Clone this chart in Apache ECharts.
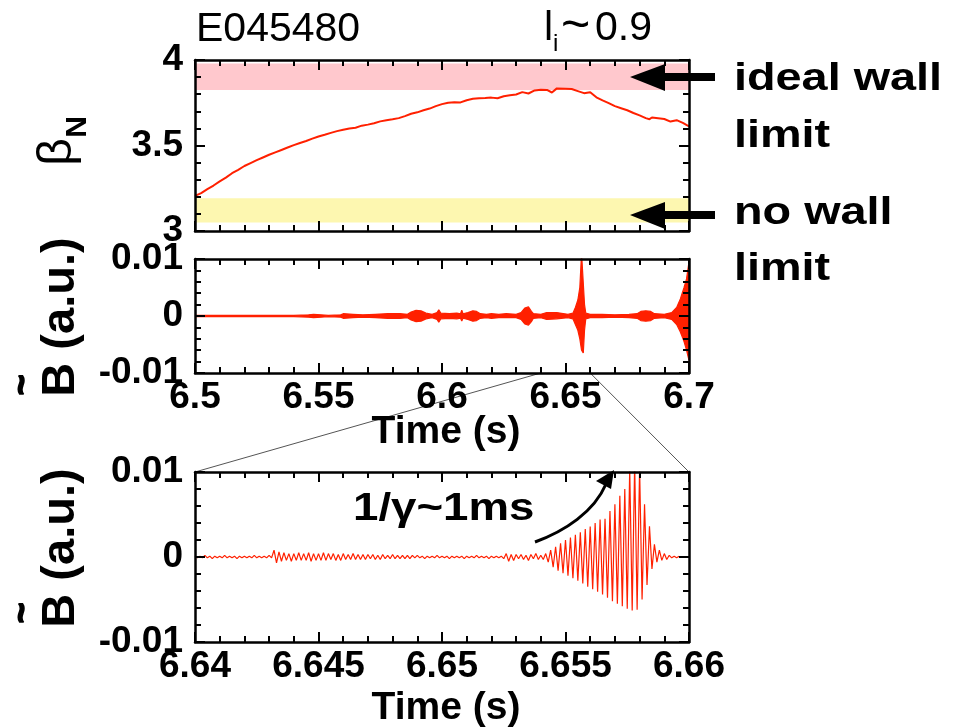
<!DOCTYPE html>
<html>
<head>
<meta charset="utf-8">
<script src="https://cdn.jsdelivr.net/npm/echarts@6/dist/echarts.min.js"></script>
<style>
html,body{margin:0;padding:0;background:#fff;}
#chart{width:964px;height:727px;}
</style>
</head>
<body>
<div id="chart"></div>
<script>
// ---------------- DATA ----------------
// tick labels
const betaTicks = [3, 3.5, 4];
const bTicks = [-0.01, 0, 0.01];
const timeTicksWide = [6.5, 6.55, 6.6, 6.65, 6.7];
const timeTicksZoom = [6.64, 6.645, 6.65, 6.655, 6.66];

// stability limit bands (beta_N)
const idealWallBand = [3.824, 3.980];
const noWallBand = [3.049, 3.192];

// beta_N trace
const betaTime = [6.5000,6.5025,6.5050,6.5075,6.5100,6.5125,6.5150,6.5175,6.5200,6.5225,
6.5250,6.5275,6.5300,6.5325,6.5350,6.5375,6.5400,6.5425,6.5450,6.5475,
6.5500,6.5525,6.5550,6.5575,6.5600,6.5625,6.5650,6.5675,6.5700,6.5725,
6.5750,6.5775,6.5800,6.5825,6.5850,6.5875,6.5900,6.5925,6.5950,6.5975,
6.6000,6.6025,6.6050,6.6075,6.6100,6.6125,6.6150,6.6175,6.6200,6.6225,
6.6250,6.6275,6.6300,6.6325,6.6350,6.6375,6.6400,6.6425,6.6445,6.6465,
6.6500,6.6525,6.6550,6.6575,6.6600,6.6625,6.6650,6.6675,6.6700,6.6725,
6.6750,6.6775,6.6800,6.6825,6.6840,6.6850,6.6875,6.6900,6.6925,6.6950,
6.6975,6.7000];
const betaN = [3.205,3.222,3.245,3.266,3.290,3.312,3.338,3.358,3.380,3.397,
3.414,3.430,3.446,3.460,3.474,3.488,3.502,3.515,3.526,3.540,
3.553,3.563,3.574,3.584,3.592,3.600,3.604,3.616,3.622,3.630,
3.641,3.648,3.653,3.660,3.672,3.686,3.694,3.706,3.716,3.730,
3.742,3.750,3.753,3.752,3.765,3.773,3.777,3.778,3.780,3.776,
3.788,3.794,3.798,3.812,3.804,3.822,3.826,3.825,3.810,3.834,
3.832,3.830,3.818,3.806,3.812,3.782,3.764,3.748,3.730,3.718,
3.706,3.690,3.676,3.660,3.654,3.664,3.660,3.655,3.640,3.648,
3.632,3.612];

// magnetic perturbation, wide window: envelope of the dense oscillation (units of 1e-4 a.u.)
const envTime = [6.5000,6.5200,6.5325,6.5330,6.5335,6.5400,6.5460,6.5480,6.5510,6.5540,
6.5590,6.5600,6.5605,6.5640,6.5680,6.5730,6.5780,6.5830,6.5860,6.5875,
6.5895,6.5915,6.5935,6.5960,6.5980,6.5987,6.5995,6.6030,6.6060,6.6075,
6.6080,6.6085,6.6105,6.6125,6.6140,6.6155,6.6180,6.6200,6.6230,6.6260,
6.6300,6.6320,6.6335,6.6350,6.6362,6.6370,6.6400,6.6424,6.6430,6.6464,
6.6470,6.6510,6.6530,6.6540,6.6550,6.6558,6.6565,6.6572,6.6577,6.6582,
6.6600,6.6648,6.6652,6.6656,6.6700,6.6757,6.6761,6.6765,6.6790,6.6805,
6.6825,6.6845,6.6860,6.6900,6.6930,6.6950,6.6965,6.6980,6.6990,6.7000];
const envUpper = [1,1,1,3,1,1,2,3,2,1,
2,4,2,3,2,3,4,4,3,7,
10,9,5,3,6,11,5,4,5,4,
10,4,6,9,8,4,3,4,3,4,
3,6,14,16,8,4,3,6,3,6,
3,3,5,15,28,50,110,110,20,5,
3,3,6,3,2,3,6,3,4,8,
9,8,4,3,6,15,30,50,65,95];
const envLower = [-1,-1,-1,-3,-1,-1,-2,-3,-2,-1,
-2,-4,-2,-3,-2,-3,-4,-4,-3,-7,
-10,-9,-5,-3,-6,-11,-5,-4,-5,-4,
-9,-4,-6,-9,-8,-4,-3,-4,-3,-3,
-3,-6,-14,-16,-10,-4,-3,-6,-3,-5,
-3,-3,-5,-15,-25,-40,-60,-65,-25,-5,
-3,-3,-6,-3,-2,-3,-6,-3,-4,-8,
-9,-8,-4,-3,-6,-15,-28,-45,-60,-78];

// magnetic perturbation, zoomed window (units of 1e-4 a.u.)
const zoomTime = [6.6400,6.6401,6.6402,6.6403,6.6404,6.6405,6.6406,6.6407,6.6408,6.6409,
6.6410,6.6411,6.6412,6.6413,6.6414,6.6415,6.6416,6.6417,6.6418,6.6419,
6.6420,6.6421,6.6422,6.6423,6.6424,6.6425,6.6426,6.6427,6.6428,6.6429,
6.6430,6.6431,6.6432,6.6433,6.6434,6.6435,6.6436,6.6437,6.6438,6.6439,
6.6440,6.6441,6.6442,6.6443,6.6444,6.6445,6.6446,6.6447,6.6448,6.6449,
6.6450,6.6451,6.6452,6.6453,6.6454,6.6455,6.6456,6.6457,6.6458,6.6459,
6.6460,6.6461,6.6462,6.6463,6.6464,6.6465,6.6466,6.6467,6.6468,6.6469,
6.6470,6.6471,6.6472,6.6473,6.6474,6.6475,6.6476,6.6477,6.6478,6.6479,
6.6480,6.6481,6.6482,6.6483,6.6484,6.6485,6.6486,6.6487,6.6488,6.6489,
6.6490,6.6491,6.6492,6.6493,6.6494,6.6495,6.6496,6.6497,6.6498,6.6499,
6.6500,6.6501,6.6502,6.6503,6.6504,6.6505,6.6506,6.6507,6.6508,6.6509,
6.6510,6.6511,6.6512,6.6513,6.6514,6.6515,6.6516,6.6517,6.6518,6.6519,
6.6520,6.6521,6.6522,6.6523,6.6524,6.6525,6.6526,6.6527,6.6528,6.6529,
6.6530,6.6531,6.6532,6.6533,6.6534,6.6535,6.6536,6.6537,6.6538,6.6539,
6.6540,6.6541,6.6542,6.6543,6.6544,6.6545,6.6546,6.6547,6.6548,6.6549,
6.6550,6.6551,6.6552,6.6553,6.6554,6.6555,6.6556,6.6557,6.6558,6.6559,
6.6560,6.6561,6.6562,6.6563,6.6564,6.6565,6.6566,6.6567,6.6568,6.6569,
6.6570,6.6571,6.6572,6.6573,6.6574,6.6575,6.6576,6.6577,6.6578,6.6579,
6.6580,6.6581,6.6582,6.6583,6.6584,6.6585,6.6586,6.6587,6.6588,6.6589,
6.6590,6.6591,6.6592,6.6593,6.6594,6.6595,6.6596];
const zoomB = [1,-1,1,-1,2,-1,1,-2,1,-1,
1,-1,2,-1,1,-1,1,-2,1,-1,
1,-1,1,-1,2,-1,1,-1,1,-1,
2,-1,8,-7,6,-5,5,-4,4,-5,
4,-4,5,-4,4,-4,5,-5,4,-4,
4,-4,5,-4,4,-3,4,-4,3,-4,
4,-3,3,-3,4,-3,3,-3,3,-3,
3,-2,3,-3,2,-3,3,-2,2,-2,
3,-2,2,-2,2,-2,2,-2,2,-1,
2,-1,1,-2,1,-1,1,-1,2,-1,
1,-1,1,-2,1,-1,1,-1,1,-2,
1,-1,1,-1,2,-1,1,-1,1,-2,
1,-1,1,-1,1,-2,4,-5,3,-4,
3,-2,3,-3,2,-4,3,-2,4,-3,
2,-3,4,-6,8,-12,12,-16,16,-19,
20,-22,23,-25,26,-28,29,-31,33,-35,
36,-38,40,-41,44,-44,45,-48,54,-52,
62,-55,72,-58,80,-61,104,-63,110,-62,
105,-50,62,-33,36,-14,15,-6,8,-4,
4,-3,2,-1,1,-1,1];

// ---------------- CHART ----------------
const FONT = "'Liberation Sans', Arial, Helvetica, sans-serif";
const RED = '#ff2000';
const UNIT = 1e-4;
const TICK_FONT = 37;

function fmt(v){ return String(parseFloat(Number(v).toFixed(4))); }
function step(t){ return parseFloat((t[1]-t[0]).toFixed(6)); }

function X(grid, ticks, pos, labels){
  return {
    type:'value', gridIndex:grid, position:pos, z:5,
    min:ticks[0], max:ticks[ticks.length-1], interval:step(ticks),
    axisLine:{show:true, onZero:false, lineStyle:{color:'#000', width:2.5}},
    axisTick:{show:true, inside:true, length:10, lineStyle:{color:'#000', width:2}},
    minorTick:{show:true, splitNumber:5, length:6, lineStyle:{color:'#000', width:2}},
    splitLine:{show:false}, minorSplitLine:{show:false},
    axisLabel:{show:labels, margin:6, color:'#000', fontSize:TICK_FONT, fontWeight:'bold',
      fontFamily:FONT, formatter:fmt, showMinLabel:true, showMaxLabel:true}
  };
}
function Y(grid, ticks, pos, labels, pad){
  return {
    type:'value', gridIndex:grid, position:pos, z:5,
    min:ticks[0], max:ticks[ticks.length-1], interval:step(ticks),
    axisLine:{show:true, onZero:false, lineStyle:{color:'#000', width:2.5}},
    axisTick:{show:true, inside:true, length:10, lineStyle:{color:'#000', width:2}},
    minorTick:{show:true, splitNumber:5, length:6, lineStyle:{color:'#000', width:2}},
    splitLine:{show:false}, minorSplitLine:{show:false},
    axisLabel:{show:labels, margin:12, color:'#000', fontSize:TICK_FONT, fontWeight:'bold',
      fontFamily:FONT, formatter:fmt, padding:pad||0, showMinLabel:true, showMaxLabel:true}
  };
}

const chart = echarts.init(document.getElementById('chart'), null, {renderer:'canvas'});

const betaData = betaTime.map((t,i)=>[t, betaN[i]]);
const upData = envTime.map((t,i)=>[t, envUpper[i]*UNIT]);
const loData = envTime.map((t,i)=>[t, envLower[i]*UNIT]);
const zoomData = zoomTime.map((t,i)=>[t, zoomB[i]*UNIT]);

chart.setOption({
  animation:false,
  backgroundColor:'#fff',
  grid:[
    {left:195, top:60, width:494, height:171},
    {left:195, top:259, width:494, height:114},
    {left:195, top:472, width:494, height:170}
  ],
  xAxis:[
    X(0, timeTicksWide, 'bottom', false), X(0, timeTicksWide, 'top', false),
    X(1, timeTicksWide, 'bottom', true),  X(1, timeTicksWide, 'top', false),
    X(2, timeTicksZoom, 'bottom', true),  X(2, timeTicksZoom, 'top', false)
  ],
  yAxis:[
    Y(0, betaTicks, 'left', true, [0,0,10,0]), Y(0, betaTicks, 'right', false),
    Y(1, bTicks, 'left', true), Y(1, bTicks, 'right', false),
    Y(2, bTicks, 'left', true), Y(2, bTicks, 'right', false)
  ],
  series:[
    {type:'line', xAxisIndex:0, yAxisIndex:0, data:betaData, showSymbol:false, symbol:'none',
     lineStyle:{color:RED, width:2}, z:3,
     markArea:{silent:true, data:[
       [{yAxis:idealWallBand[0], itemStyle:{color:'#ffc8cd'}}, {yAxis:idealWallBand[1]}],
       [{yAxis:noWallBand[0], itemStyle:{color:'#fdf7b0'}}, {yAxis:noWallBand[1]}]
     ]}},
    {type:'line', xAxisIndex:2, yAxisIndex:2, data:upData, symbol:'none',
     lineStyle:{color:RED, width:1.2}, areaStyle:{color:RED, opacity:1, origin:'auto'}},
    {type:'line', xAxisIndex:2, yAxisIndex:2, data:loData, symbol:'none',
     lineStyle:{color:RED, width:1.2}, areaStyle:{color:RED, opacity:1, origin:'auto'}},
    {type:'line', xAxisIndex:4, yAxisIndex:4, data:zoomData, symbol:'none',
     lineStyle:{color:RED, width:1.2}}
  ]
});

// connectors between the wide window and the zoomed window
const zA = timeTicksZoom[0], zB = timeTicksZoom[timeTicksZoom.length-1];
const p1 = chart.convertToPixel({gridIndex:1}, [zA, bTicks[0]]);
const p2 = chart.convertToPixel({gridIndex:1}, [zB, bTicks[0]]);
const q1 = chart.convertToPixel({gridIndex:2}, [zA, bTicks[bTicks.length-1]]);
const q2 = chart.convertToPixel({gridIndex:2}, [zB, bTicks[bTicks.length-1]]);

function txt(x, y, text, size, weight, opts){
  opts = opts || {};
  const style = {text:text, fill:'#000', fontSize:size, fontWeight:weight, fontFamily:FONT,
      align:opts.align||'left', verticalAlign:'middle'};
  if (opts.stroke) { style.stroke = '#000'; style.lineWidth = opts.stroke; }
  return Object.assign({type:'text', x:x, y:y, z:10, style:style}, opts.el||{});
}
const R90 = Math.PI/2;

chart.setOption({
  graphic:{elements:[
    {type:'line', z:1, shape:{x1:p1[0], y1:p1[1], x2:q1[0], y2:q1[1]}, style:{stroke:'#555', lineWidth:1}},
    {type:'line', z:1, shape:{x1:p2[0], y1:p2[1], x2:q2[0], y2:q2[1]}, style:{stroke:'#555', lineWidth:1}},
    // header texts
    txt(196, 30, 'E045480', 41, 'normal'),
    txt(544, 28.6, 'l', 41, 'normal'),
    txt(553, 44.6, 'i', 24, 'normal'),
    txt(561, 27.5, '~', 50, 'normal'),
    txt(595, 28.6, '0.9', 41, 'normal'),
    // right-hand annotations
    txt(734, 79.4, 'ideal wall', 39, 'bold', {el:{scaleX:1.2}}),
    txt(734, 136.4, 'limit', 39, 'bold', {el:{scaleX:1.2}}),
    txt(734, 213, 'no wall', 39, 'bold', {el:{scaleX:1.2}}),
    txt(734, 269.5, 'limit', 39, 'bold', {el:{scaleX:1.2}}),
    // arrows
    {type:'rect', z:10, shape:{x:660, y:73, width:55, height:8}, style:{fill:'#000'}},
    {type:'polygon', z:10, shape:{points:[[630,77],[665,64],[665,91]]}, style:{fill:'#000'}},
    {type:'rect', z:10, shape:{x:660, y:211, width:55, height:8}, style:{fill:'#000'}},
    {type:'polygon', z:10, shape:{points:[[630,215],[665,202],[665,229]]}, style:{fill:'#000'}},
    // growth-rate annotation
    txt(353, 509, '1/\u03b3~1ms', 39, 'bold', {el:{scaleX:1.17}}),
    {type:'bezierCurve', z:10, shape:{x1:535, y1:542, cpx1:565, cpy1:531, cpx2:594, cpy2:512, x2:606, y2:484},
     style:{stroke:'#000', lineWidth:3, fill:null}},
    {type:'polygon', z:10, shape:{points:[[614,470],[596,481],[611,489]]}, style:{fill:'#000'}},
    // axis titles
    txt(58, 152, '\u03b2', 48, 'normal', {align:'center', el:{rotation:R90}}),
    txt(77.5, 127, 'N', 30, 'bold', {align:'center', el:{rotation:R90}}),
    txt(61.5, 317, 'B (a.u.)', 47, 'bold', {align:'center', el:{rotation:R90}}),
    txt(23, 385, '~', 36, 'bold', {align:'center', stroke:1.5, el:{rotation:R90}}),
    txt(61.5, 548, 'B (a.u.)', 47, 'bold', {align:'center', el:{rotation:R90}}),
    txt(23, 613, '~', 36, 'bold', {align:'center', stroke:1.5, el:{rotation:R90}}),
    txt(446, 432, 'Time (s)', 39, 'bold', {align:'center'}),
    txt(446, 708, 'Time (s)', 39, 'bold', {align:'center'})
  ]}
});
</script>
</body>
</html>
